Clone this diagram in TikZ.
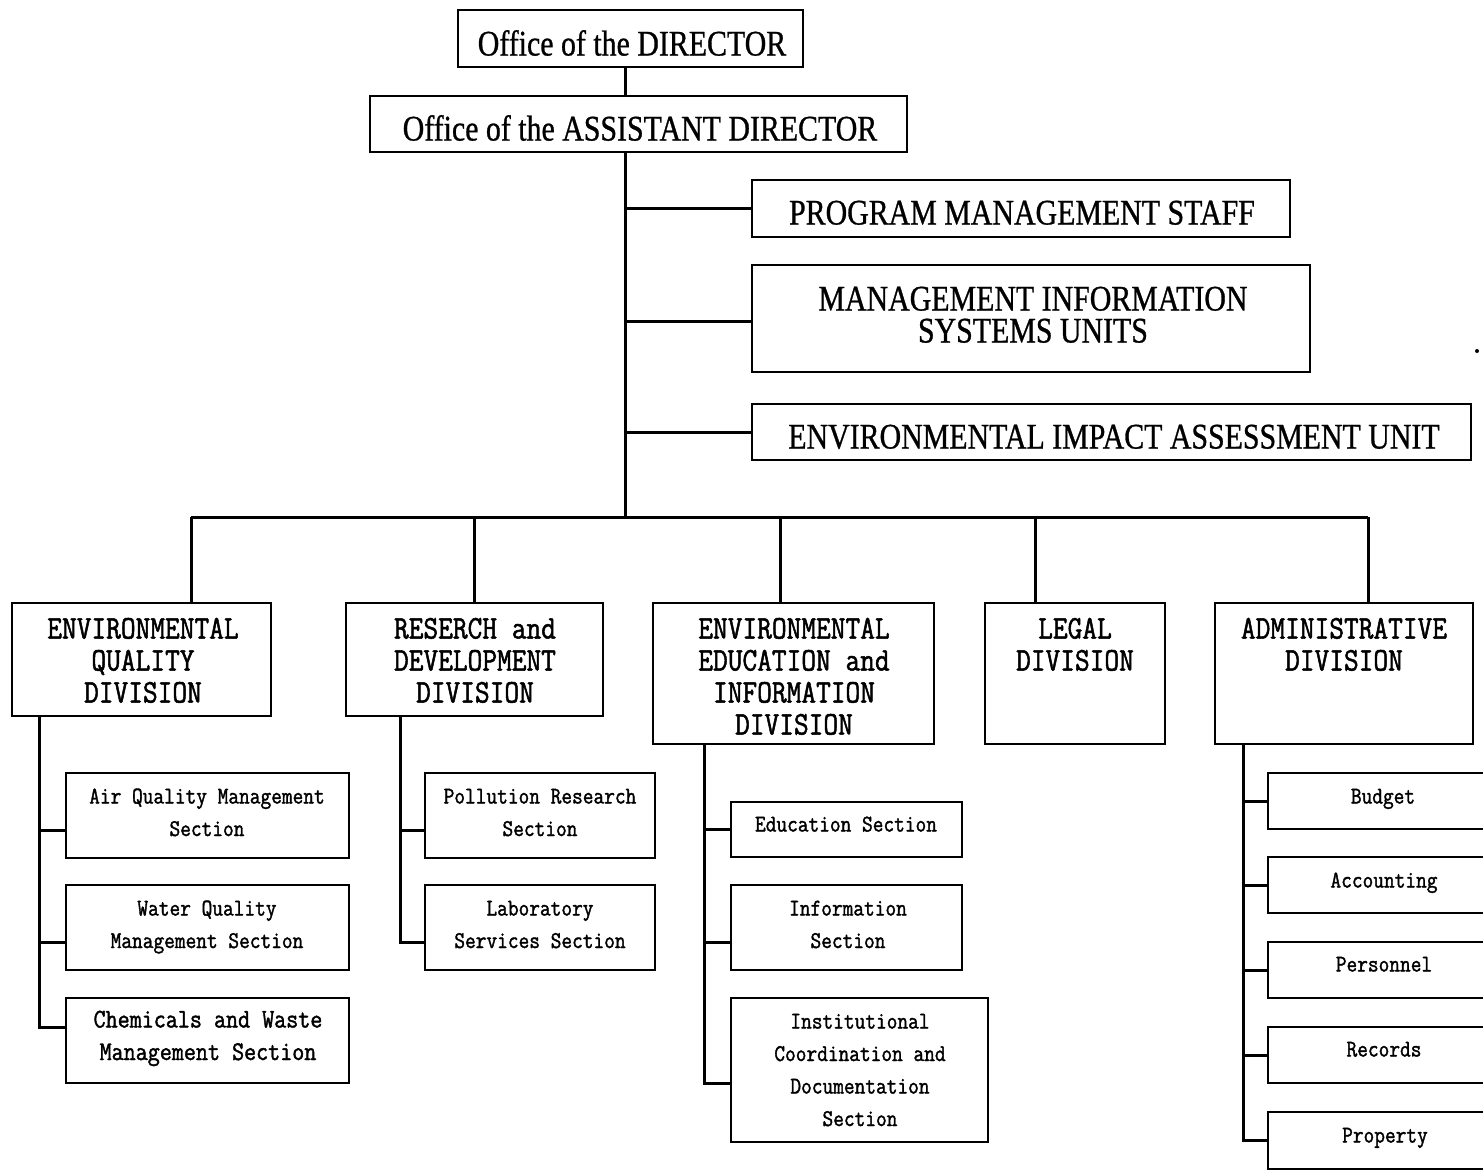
\documentclass[tikz,border=0pt]{standalone}
\usepackage{fontspec}
\setmainfont{Liberation Serif}
\newfontfamily\topfont[FakeStretch=0.83,FakeBold=0.8]{Liberation Serif}
\newfontfamily\lowfont[FakeStretch=0.866,FakeBold=1.5]{Latin Modern Mono}
\newcommand\sr{\rule{0pt}{1em}}
\newcommand\obox[5]{\node[box, minimum width={#4-#2}, minimum height={#5-#3}] (#1) at ({(#2+#4)/2},{(#3+#5)/2}) {};}
\begin{document}
\begin{tikzpicture}[x=1pt,y=-1pt,
  line width=3pt,
  box/.style={draw, rectangle, inner sep=0pt, outer sep=0pt, line width=2.8pt},
  ttext/.style={inner sep=0pt, anchor=north, align=center, font={\topfont\fontsize{36}{32}\selectfont}},
  dtext/.style={inner sep=0pt, anchor=north, align=center, font={\lowfont\fontsize{33}{32}\selectfont}},
  stext/.style={inner sep=0pt, anchor=north, align=center, font={\lowfont\fontsize{24}{32.5}\selectfont}},
  ctext/.style={inner sep=0pt, anchor=north, align=center, font={\lowfont\fontsize{27}{32.5}\selectfont}}]
\useasboundingbox (0,0) rectangle (1483,1170);
% boxes
\obox{dir}{458}{10}{803}{67}
\obox{asst}{370}{96}{907}{152}
\obox{pms}{752}{180}{1290}{237}
\obox{mis}{752}{265}{1310}{372}
\obox{eia}{752}{404}{1471}{460}
\obox{eq}{12}{603}{271}{716}
\obox{rd}{346}{603}{603}{716}
\obox{ee}{653}{603}{934}{744}
\obox{lg}{985}{603}{1165}{744}
\obox{ad}{1215}{603}{1473}{744}
\obox{air}{66}{773}{349}{858}
\obox{wat}{66}{885}{349}{970}
\obox{chem}{66}{998}{349}{1083}
\obox{pol}{425}{773}{655}{858}
\obox{lab}{425}{885}{655}{970}
\obox{edu}{731}{802}{962}{857}
\obox{inf}{731}{885}{962}{970}
\obox{ins}{731}{998}{988}{1142}
\obox{bud}{1268}{773}{1500}{829}
\obox{acc}{1268}{857}{1500}{913}
\obox{per}{1268}{942}{1500}{998}
\obox{rec}{1268}{1027}{1500}{1083}
\obox{pro}{1268}{1112}{1500}{1169}
% texts
\node[ttext] (dirT) at (632,18) {\sr Office of the DIRECTOR};
\node[ttext] (asstT) at (640,103) {\sr Office of the ASSISTANT DIRECTOR};
\node[ttext] (pmsT) at (1022,187) {\sr PROGRAM MANAGEMENT STAFF};
\node[ttext] (misT) at (1033,273) {\sr MANAGEMENT INFORMATION\\SYSTEMS UNITS};
\node[ttext] (eiaT) at (1114,411) {\sr ENVIRONMENTAL IMPACT ASSESSMENT UNIT};
\node[dtext] (eqT) at (143,604) {\sr ENVIRONMENTAL\\QUALITY\\DIVISION};
\node[dtext] (rdT) at (475,604) {\sr RESERCH and\\DEVELOPMENT\\DIVISION};
\node[dtext] (eeT) at (794,604) {\sr ENVIRONMENTAL\\EDUCATION and\\INFORMATION\\DIVISION};
\node[dtext] (lgT) at (1075,604) {\sr LEGAL\\DIVISION};
\node[dtext] (adT) at (1344,604) {\sr ADMINISTRATIVE\\DIVISION};
\node[stext] (airT) at (207,778) {\sr Air Quality Management\\Section};
\node[stext] (watT) at (207,890) {\sr Water Quality\\Management Section};
\node[ctext] (chemT) at (208,999) {\sr Chemicals and Waste\\Management Section};
\node[stext] (polT) at (540,778) {\sr Pollution Research\\Section};
\node[stext] (labT) at (540,890) {\sr Laboratory\\Services Section};
\node[stext] (eduT) at (846,806) {\sr Education Section};
\node[stext] (infT) at (848,890) {\sr Information\\Section};
\node[stext] (insT) at (860,1003) {\sr Institutional\\Coordination and\\Documentation\\Section};
\node[stext] (budT) at (1383,778) {\sr Budget};
\node[stext] (accT) at (1384,862) {\sr Accounting};
\node[stext] (perT) at (1384,946) {\sr Personnel};
\node[stext] (recT) at (1384,1031) {\sr Records};
\node[stext] (proT) at (1385,1117) {\sr Property};
% coordinates
\coordinate (trk) at (625,517);
\coordinate (bEQ) at (191,517);
\coordinate (bRD) at (474,517);
\coordinate (bEE) at (780,517);
\coordinate (bLG) at (1035,517);
\coordinate (bAD) at (1368,517);
\coordinate (vEQ) at (39,0);
\coordinate (vRD) at (400,0);
\coordinate (vEE) at (704,0);
\coordinate (vAD) at (1243,0);
% top connectors
\draw (dir.south -| trk) -- (asst.north -| trk);
\draw (asst.south -| trk) -- (trk);
\draw (pms.west -| trk) -- (pms.west);
\draw ([yshift=-2.5pt]mis.west -| trk) -- ([yshift=-2.5pt]mis.west);
\draw (eia.west -| trk) -- (eia.west);
\draw (bEQ) -- (bAD);
\draw (bEQ) -- (bEQ |- eq.north);
\draw (bRD) -- (bRD |- rd.north);
\draw (bEE) -- (bEE |- ee.north);
\draw (bLG) -- (bLG |- lg.north);
\draw (bAD) -- (bAD |- ad.north);
% EQ subtree
\draw (vEQ |- eq.south) -- ([yshift=13pt]chem.west -| vEQ) -- ([yshift=13pt]chem.west);
\draw ([yshift=-14.5pt]air.west -| vEQ) -- ([yshift=-14.5pt]air.west);
\draw ([yshift=-14.5pt]wat.west -| vEQ) -- ([yshift=-14.5pt]wat.west);
% RD subtree
\draw (vRD |- rd.south) -- ([yshift=-14.5pt]lab.west -| vRD) -- ([yshift=-14.5pt]lab.west);
\draw ([yshift=-14.5pt]pol.west -| vRD) -- ([yshift=-14.5pt]pol.west);
% EE subtree
\draw (vEE |- ee.south) -- ([yshift=-13pt]ins.west -| vEE) -- ([yshift=-13pt]ins.west);
\draw (edu.west -| vEE) -- (edu.west);
\draw ([yshift=-14.5pt]inf.west -| vEE) -- ([yshift=-14.5pt]inf.west);
% AD subtree
\draw (vAD |- ad.south) -- (pro.west -| vAD) -- (pro.west);
\draw (bud.west -| vAD) -- (bud.west);
\draw (acc.west -| vAD) -- (acc.west);
\draw (per.west -| vAD) -- (per.west);
\draw (rec.west -| vAD) -- (rec.west);
% speck
\fill (1477,351) circle (2pt);
\end{tikzpicture}
\end{document}
